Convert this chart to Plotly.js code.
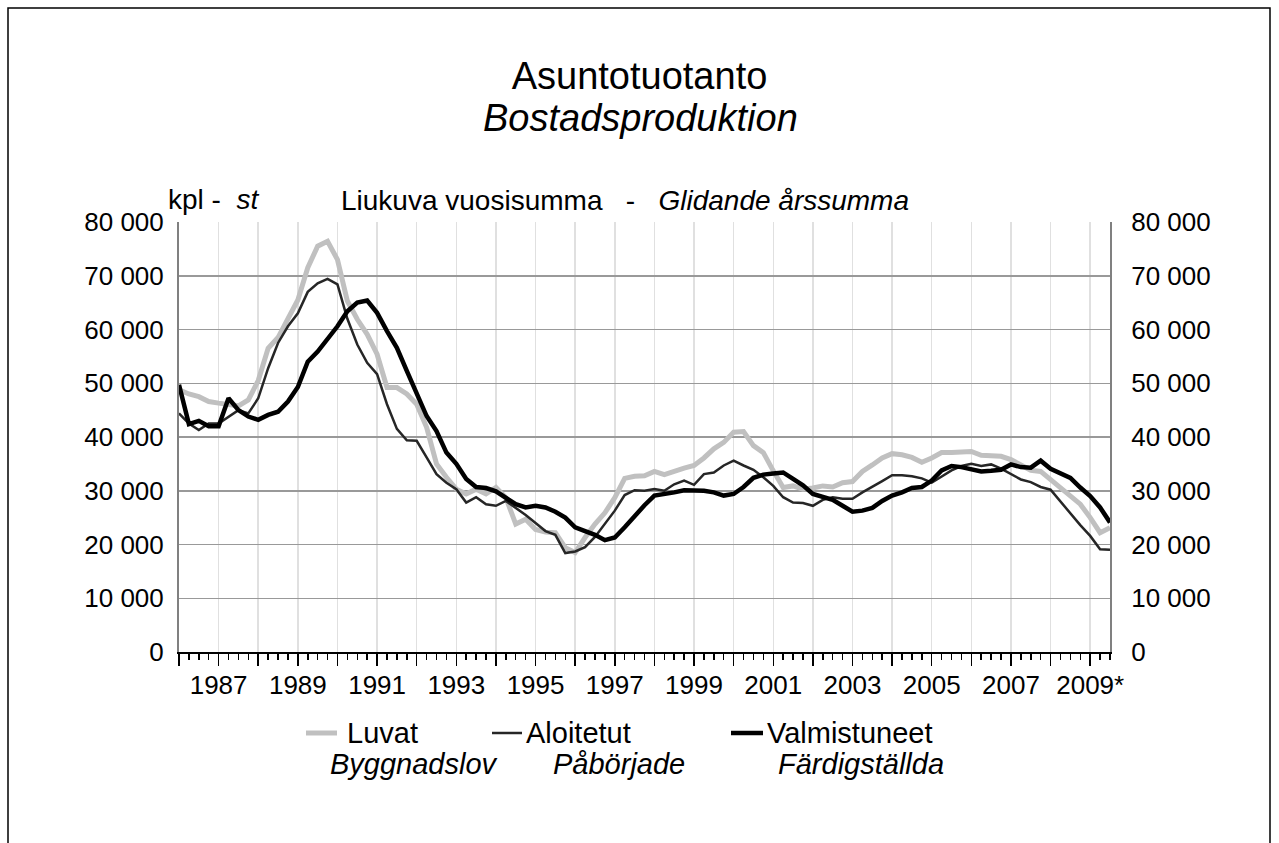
<!DOCTYPE html>
<html><head><meta charset="utf-8">
<script src="https://cdn.plot.ly/plotly-3.0.1.min.js"></script>
<style>html,body{margin:0;padding:0;background:#fff}#chart{width:1279px;height:843px}</style>
</head><body><div id="chart"></div>
<script>
// Quarterly data, 1986 Q1 ... 2009 Q3 (rolling annual sum, dwellings)
const startYear = 1986;
const luvat = [48800,48000,47500,46600,46300,46000,45800,46900,50500,56500,58500,62000,65500,71500,75500,76400,
73000,65300,61900,59100,55400,49200,49200,48000,46100,41800,35000,32500,30300,29400,30300,29400,
30600,28700,23800,24700,22800,22300,22200,19400,18500,21300,23800,25900,28700,32300,32700,32800,
33600,33000,33700,34200,34700,36100,37800,39000,40900,41000,38400,37100,33700,30600,30900,30300,
30500,30900,30700,31500,31700,33600,34800,36100,36900,36700,36200,35300,36100,37100,37100,37200,
37300,36600,36400,36400,35800,34800,33800,33600,32100,30700,29300,27500,25000,22200,23100];
const aloitetut = [44400,42500,41300,42500,42500,43800,45000,44400,47200,52800,57500,60600,63000,67000,68600,69400,
68400,62000,57200,53800,51700,46100,41500,39400,39300,36200,33100,31500,30300,27800,28800,27500,
27200,28100,26800,25500,24000,22500,21800,18400,18700,19500,21400,23800,26300,29200,30100,30000,
30300,30000,31200,31900,31100,33100,33400,34700,35600,34700,33900,32500,30900,28800,27800,27700,
27200,28300,28800,28500,28500,29700,30700,31800,32900,32900,32700,32300,31500,32700,33800,34600,
35000,34600,34900,34100,33100,32100,31600,30700,30200,28000,25600,23600,21600,19100,19000];
const valmistuneet = [49700,42400,43000,42000,42000,47200,45000,43800,43200,44100,44700,46600,49300,54000,55900,58300,
60600,63400,65000,65400,63100,59700,56600,52300,48000,43900,41100,37100,35000,32200,30700,30500,
29900,28700,27500,26900,27200,26900,26100,25000,23200,22500,21800,20800,21300,23200,25300,27300,
29100,29300,29700,30100,30100,30000,29700,29100,29400,30700,32400,33000,33200,33400,32200,31000,
29400,28800,28300,27200,26100,26300,26800,28100,29100,29700,30500,30700,31900,33800,34600,34400,
34100,33600,33700,33900,34900,34400,34300,35600,34100,33300,32400,30600,29000,26900,24100];
const tickYears = [1986,1987,1988,1989,1990,1991,1992,1993,1994,1995,1996,1997,1998,1999,2000,2001,2002,2003,2004,2005,2006,2007,2008,2009];
const tickLabels = ["","1987","","1989","","1991","","1993","","1995","","1997","","1999","","2001","","2003","","2005","","2007","","2009*"];
const seriesNames = ["Luvat","Aloitetut","Valmistuneet"];
const seriesNamesSv = ["Byggnadslov","Påbörjade","Färdigställda"];

const xq = luvat.map((_, i) => startYear + i / 4);

const W = 1279, H = 843, L = 179, R = 1110, T = 222, B = 652;
const px = x => (x - L) / (R - L);
const py = y => (B - y) / (B - T);

const styles = [
  {color: '#c0c0c0', width: 5},
  {color: '#262626', width: 2.5},
  {color: '#000000', width: 4.5}
];
const data = [luvat, aloitetut, valmistuneet].map((v, i) => ({
  type: 'scatter', mode: 'lines', x: xq, y: v, name: seriesNames[i],
  line: {color: styles[i].color, width: styles[i].width}, showlegend: false
}));
data.push({type: 'scatter', mode: 'lines', x: xq, y: valmistuneet, yaxis: 'y2',
  line: {color: 'rgba(0,0,0,0)', width: 0}, showlegend: false, hoverinfo: 'skip'});

const FONT = 'Liberation Sans, Arial, sans-serif';
const tickFont = {family: FONT, size: 26, color: '#000'};
const legFont = {family: FONT, size: 29, color: '#000'};

const legX = [[306, 337, 345, 328], [492, 522, 524, 551], [731, 763, 765, 776]];
const shapes = [
  {type: 'rect', xref: 'paper', yref: 'paper', x0: px(8), x1: px(1270), y0: py(8), y1: py(860),
   line: {color: '#000', width: 1.5}, fillcolor: 'rgba(0,0,0,0)', layer: 'below'}
];
const annotations = [
  {text: '<i>Bostadsproduktion</i>', xref: 'paper', yref: 'paper', x: px(640), y: py(118),
   xanchor: 'center', yanchor: 'middle', showarrow: false, font: {family: FONT, size: 38, color: '#000'}},
  {text: 'kpl - &nbsp;<i>st</i>', xref: 'paper', yref: 'paper', x: px(166), y: py(199),
   xanchor: 'left', yanchor: 'middle', showarrow: false, font: {family: FONT, size: 28, color: '#000'}},
  {text: 'Liukuva vuosisumma &nbsp;&nbsp;- &nbsp;&nbsp;<i>Glidande årssumma</i>', xref: 'paper', yref: 'paper', x: px(339), y: py(200),
   xanchor: 'left', yanchor: 'middle', showarrow: false, font: {family: FONT, size: 28, color: '#000'}}
];
legX.forEach((p, i) => {
  shapes.push({type: 'line', xref: 'paper', yref: 'paper', x0: px(p[0]), x1: px(p[1]), y0: py(733), y1: py(733),
    line: {color: styles[i].color, width: styles[i].width}});
  annotations.push({text: seriesNames[i], xref: 'paper', yref: 'paper', x: px(p[2]), y: py(733),
    xanchor: 'left', yanchor: 'middle', showarrow: false, font: legFont});
  annotations.push({text: '<i>' + seriesNamesSv[i] + '</i>', xref: 'paper', yref: 'paper', x: px(p[3]), y: py(764),
    xanchor: 'left', yanchor: 'middle', showarrow: false, font: legFont});
});

const layout = {
  width: W, height: H,
  margin: {l: L, r: W - R, t: T, b: H - B, pad: 0},
  paper_bgcolor: '#fff', plot_bgcolor: '#fff',
  font: {family: FONT, color: '#000'},
  separators: ', ',
  showlegend: false,
  title: {text: 'Asuntotuotanto', font: {family: FONT, size: 38, color: '#000'},
    xref: 'container', yref: 'container', x: 0.5, y: 1 - 76 / H, xanchor: 'center', yanchor: 'middle'},
  xaxis: {
    range: [1986, 2009.5], tickmode: 'array', tickvals: tickYears, ticktext: tickLabels,
    showgrid: true, gridcolor: '#e0e0e0', gridwidth: 1.5,
    ticks: 'outside', ticklen: 12, tickwidth: 1.5, tickcolor: '#000',
    minor: {dtick: 0.25, tick0: 1986, ticks: 'outside', ticklen: 6, tickwidth: 1.5, tickcolor: '#000', showgrid: false},
    showline: true, linecolor: '#000', linewidth: 1.5, zeroline: false,
    tickfont: tickFont, ticklabelstandoff: -3, fixedrange: true
  },
  yaxis: {
    range: [0, 80000], dtick: 10000, tick0: 0, tickformat: ',.0f',
    showgrid: true, gridcolor: '#999', gridwidth: 1.5,
    showline: true, linecolor: '#808080', linewidth: 2, zeroline: false,
    ticks: '', tickfont: tickFont, ticklabelstandoff: 8, fixedrange: true
  },
  yaxis2: {
    overlaying: 'y', side: 'right', range: [0, 80000], dtick: 10000, tick0: 0, tickformat: ',.0f',
    showgrid: false, showline: true, linecolor: '#808080', linewidth: 2, zeroline: false,
    ticks: '', tickfont: tickFont, ticklabelstandoff: 14, fixedrange: true
  },
  shapes: shapes,
  annotations: annotations
};

Plotly.newPlot('chart', data, layout, {staticPlot: true, displayModeBar: false});
</script>
</body></html>
